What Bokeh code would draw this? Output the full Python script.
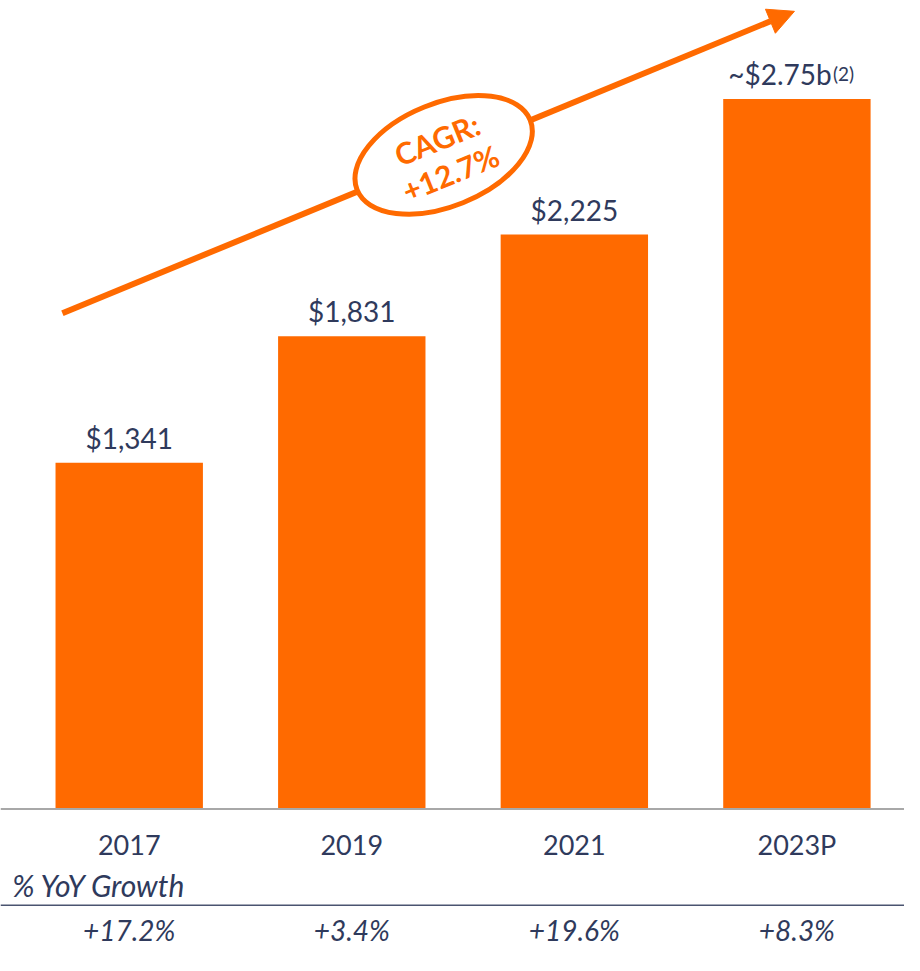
from bokeh.plotting import figure
from bokeh.models import ColumnDataSource, Range1d, Span, Arrow, NormalHead
from bokeh.core.properties import value
from bokeh.embed import file_html
from bokeh.resources import INLINE

# ---- data ----
categories = ["2017", "2019", "2021", "2023P"]
revenue = [1341, 1831, 2225, 2750]
value_labels = ["$1,341", "$1,831", "$2,225", "~$2.75b"]
footnotes = ["", "", "", "(2)"]
growth_labels = ["+17.2%", "+3.4%", "+19.6%", "+8.3%"]
growth_title = "% YoY Growth"
cagr_text = "CAGR:\n+12.7%"

ORANGE = "#FF6A00"
NAVY = "#2F3A5C"
FONT = "Lato"

W, H = 904, 955
SX, SY = W / 920, H / 971          # layout drawn in reference pixel terms
XU = 226.5 * SX                    # pixels per category
X0 = 131 * SX                      # pixel column of first category centre
BASE = 822 * SY                    # pixel row of the zero line
K = 0.2625 * SY                    # pixels per value unit

def dx(px):
    return (px * SX - X0) / XU

def dy(py):
    return (BASE - py * SY) / K

p = figure(width=W, height=H, output_backend="svg", toolbar_location=None,
           x_range=Range1d(dx(0), dx(920)), y_range=Range1d(dy(971), dy(0)),
           min_border=0, outline_line_color=None)
p.xaxis.visible = False
p.yaxis.visible = False
p.xgrid.visible = False
p.ygrid.visible = False
p.background_fill_color = "white"

idx = list(range(len(categories)))
src = ColumnDataSource(dict(
    x=idx, top=revenue, cat=categories, lab=value_labels, note=footnotes,
    growth=growth_labels,
    zero=[0] * len(idx),
    loff=[-17 if n else 0 for n in footnotes],
))

p.vbar(x="x", top="top", bottom=0, width=150 * SX / XU, source=src,
       fill_color=ORANGE, line_color=None)

# baseline and separator
p.add_layout(Span(location=0, dimension="width", line_color="#A8A8A8", line_width=2))
p.add_layout(Span(location=dy(920), dimension="width", line_color="#4A5470", line_width=1.5))

# value labels
p.text(x="x", y="top", text="lab", source=src, x_offset="loff", y_offset=-25,
       text_align="center", text_baseline="alphabetic",
       text_font=value(FONT), text_font_size="28px", text_color=NAVY)
p.text(x="x", y="top", text="note", source=src, x_offset=36, y_offset=-25,
       text_align="left", text_baseline="alphabetic",
       text_font=value(FONT), text_font_size="19px", text_color=NAVY)

# category labels
p.text(x="x", y="zero", text="cat", source=src, y_offset=36,
       text_align="center", text_baseline="alphabetic",
       text_font=value(FONT), text_font_size="27px", text_color=NAVY)

# growth row
p.text(x=[dx(12)], y=[0], text=[growth_title], y_offset=76,
       text_align="left", text_baseline="alphabetic",
       text_font=value(FONT), text_font_style="italic", text_font_size="30px",
       text_color=NAVY)
p.text(x="x", y="zero", text="growth", source=src, y_offset=121,
       text_align="center", text_baseline="alphabetic",
       text_font=value(FONT), text_font_style="italic", text_font_size="28px",
       text_color=NAVY)

# CAGR arrow (under the ellipse)
p.add_layout(Arrow(x_start=dx(63), y_start=dy(318), x_end=dx(808), y_end=dy(11),
                   line_color=ORANGE, line_width=6, level="underlay",
                   end=NormalHead(size=26, fill_color=ORANGE, line_color=ORANGE)))

# CAGR ellipse + text
p.ellipse(x=[dx(451)], y=[dy(157)], width=190 * SX, height=105 * SY,
          width_units="screen", height_units="screen",
          angle=22, angle_units="deg",
          fill_color="white", line_color=ORANGE, line_width=5)
p.text(x=[dx(451)], y=[dy(158)], text=[cagr_text], angle=22, angle_units="deg",
       text_align="center", text_baseline="middle", text_line_height=1.0,
       text_font=value(FONT), text_font_style="bold", text_font_size="30px",
       text_color=ORANGE)

open("out.html", "w").write(file_html(p, INLINE))
